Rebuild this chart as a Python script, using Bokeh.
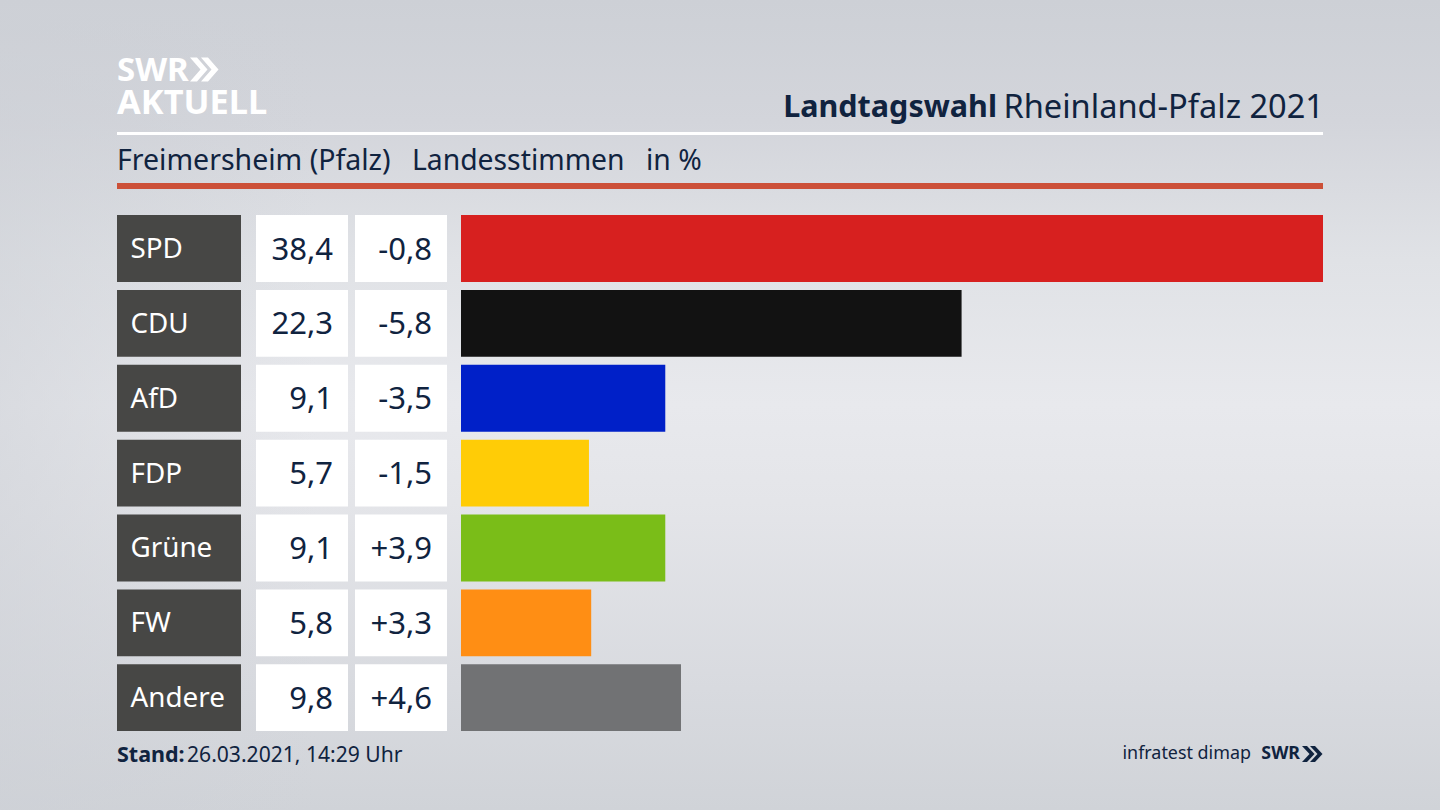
from bokeh.plotting import figure
from bokeh.models import Range1d, GlobalInlineStyleSheet
from bokeh.core.properties import value
from bokeh.embed import file_html
from bokeh.resources import INLINE
import numpy as np

parties = ["SPD", "CDU", "AfD", "FDP", "Grüne", "FW", "Andere"]
shares = [38.4, 22.3, 9.1, 5.7, 9.1, 5.8, 9.8]
changes = [-0.8, -5.8, -3.5, -1.5, 3.9, 3.3, 4.6]
colors = ["#d7201f", "#121212", "#0020c8", "#ffcc06", "#7abd18", "#ff8e14", "#717274"]

NAVY = "#10233f"
FONT = "Noto Sans"
W, H = 1440, 810

fmt = lambda v: f"{v:.1f}".replace(".", ",")
fmt_change = lambda v: f"{v:+.1f}".replace(".", ",")

css = GlobalInlineStyleSheet(css="""
html { height:100%; background:
  linear-gradient(90deg, rgba(205,208,214,0.55) 0%, rgba(205,208,214,0) 22%) fixed,
  linear-gradient(180deg, #cdd0d6 0%, #d3d5db 15%, #e0e2e6 32%, #e8e9ed 50%, #e4e5e9 62%, #d8dadf 85%, #d0d3d8 100%) fixed; }
body { background: transparent; }
""")

p = figure(width=W, height=H, output_backend="svg", toolbar_location=None,
           x_range=Range1d(0.5, W + 0.5), y_range=Range1d(H + 0.5, 0.5),
           min_border=0, min_border_left=0, min_border_right=0,
           min_border_top=0, min_border_bottom=0, outline_line_color=None,
           background_fill_alpha=0, border_fill_alpha=0, stylesheets=[css])
p.xaxis.visible = False
p.yaxis.visible = False
p.grid.visible = False

# scales for the data: percent on x, row index on y
x0_px, x1_px = 461, 1323
k = (x1_px - x0_px) / max(shares)
y0_px, pitch = 248.5, 74.87
p.extra_x_ranges["pct"] = Range1d((0.5 - x0_px) / k, (W + 0.5 - x0_px) / k)
p.extra_y_ranges["row"] = Range1d((H + 0.5 - y0_px) / pitch, (0.5 - y0_px) / pitch)

rows = np.arange(len(parties))
BAR_H = 66.8 / pitch


def t(x, y, s, size, color=NAVY, align="left", style="normal", font=FONT):
    p.text([x], [y], text=[s], text_font=value(font), text_font_size=f"{size}px", text_color=color,
           text_align=align, text_baseline="alphabetic", text_font_style=style)


def chevrons(x, y, h, w, th, gap, color):
    """two chevrons, left tip position x, vertical centre y"""
    for i in range(2):
        x_off = x + i * gap
        p.patch([x_off, x_off + th, x_off + th + w, x_off + th, x_off, x_off + w],
                [y - h / 2, y - h / 2, y, y + h / 2, y + h / 2, y],
                fill_color=color, line_color=None)


# header
t(117, 68, "SWR", 33, "white", style="bold")
chevrons(190, 69.5, 24, 10.5, 7, 11, "white")
t(117, 100, "AKTUELL", 34.4, "white", style="bold")
t(997, 105, "Landtagswahl", 30.5, align="right", style="bold")
t(1324, 105, "Rheinland-Pfalz 2021", 32.6, align="right")
p.quad(left=[117], right=[1323], top=[132], bottom=[135], fill_color="white", line_color=None)
t(117, 159, "Freimersheim (Pfalz)", 28.5)
t(412, 159, "Landesstimmen", 28.3)
t(646, 159, "in %", 28.3)
p.quad(left=[117], right=[1323], top=[183], bottom=[189], fill_color="#cc5038", line_color=None)

# table cells, in row units
p.hbar(y=rows, left=117, right=241, height=BAR_H, fill_color="#474745", line_color=None,
       y_range_name="row")
p.hbar(y=rows, left=256, right=348, height=BAR_H, fill_color="white", line_color=None,
       y_range_name="row")
p.hbar(y=rows, left=355, right=447, height=BAR_H, fill_color="white", line_color=None,
       y_range_name="row")

# bars
p.hbar(y=rows, left=0, right=shares, height=BAR_H, fill_color=colors, line_color=None,
       x_range_name="pct", y_range_name="row")

# row texts
for i, (party, share, change) in enumerate(zip(parties, shares, changes)):
    base = y0_px + pitch * i
    t(130.5, base - 1.5, party, 27.8, "white")
    t(333, base, fmt(share), 31, align="right")
    t(432, base, fmt_change(change), 31, align="right")

# footer
t(117, 753, "Stand:", 21.5, style="bold")
t(187, 753, "26.03.2021, 14:29 Uhr", 21.1)
t(1251, 752, "infratest dimap", 17.9, align="right")
t(1300, 752, "SWR", 17.8, style="bold", align="right")
chevrons(1302, 754, 16, 7.5, 5, 8, NAVY)

open("out.html", "w").write(file_html(p, INLINE))
